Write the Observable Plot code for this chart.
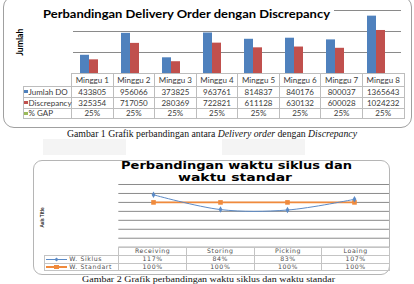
<!DOCTYPE html>
<html><head><meta charset="utf-8">
<script src="https://cdn.jsdelivr.net/npm/d3@7"></script>
<script src="https://cdn.jsdelivr.net/npm/@observablehq/plot@0.6"></script>
<style>
html,body{margin:0;padding:0;background:#fff;}
#root{position:relative;width:414px;height:284px;overflow:hidden;background:#fff;}
.abs{position:absolute;}
.t{position:absolute;white-space:nowrap;line-height:1;transform-origin:0 50%;}
svg{overflow:visible}
</style></head><body><div id="root"></div>
<script>
// ---------- Data: chart 1 ----------
const weeks = ["Minggu 1","Minggu 2","Minggu 3","Minggu 4","Minggu 5","Minggu 6","Minggu 7","Minggu 8"];
const jumlahDO = [433805, 956066, 373825, 963761, 814837, 840176, 800037, 1365643];
const discrepancy = [325354, 717050, 280369, 722821, 611128, 630132, 600028, 1024232];
const gapPct = [0.25, 0.25, 0.25, 0.25, 0.25, 0.25, 0.25, 0.25];
const series1 = ["Jumlah DO", "Discrepancy", "% GAP"];
const colors1 = ["#4f81bd", "#c0504d", "#9bbb59"];
const yTicks1 = [0, 500000, 1000000, 1500000];
const title1 = "Perbandingan Delivery Order dengan Discrepancy";
const yLabel1 = "Jumlah";
const caption1 = "Gambar 1 Grafik perbandingan antara <i>Delivery order</i> dengan <i>Discrepancy</i>";

// ---------- Data: chart 2 ----------
const stages = ["Receiving","Storing","Picking","Loaing"];
const wSiklus = [1.17, 0.84, 0.83, 1.07];
const wStandar = [1.00, 1.00, 1.00, 1.00];
const series2 = ["W. Siklus", "W. Standart"];
const colors2 = ["#5b8ac6", "#f08a3c"];
const yTicks2 = [0, 0.2, 0.4, 0.6, 0.8, 1.0, 1.2, 1.4];
const title2a = "Perbandingan waktu siklus dan";
const title2b = "waktu standar";
const yLabel2 = "Axis Title";
const caption2 = "Gambar 2 Grafik perbandingan waktu siklus dan waktu standar";

const root = document.getElementById("root");
function box(l, t, w, h, css) {
  const d = document.createElement("div");
  d.className = "abs";
  Object.assign(d.style, {left: l+"px", top: t+"px", width: w+"px", height: h+"px"}, css || {});
  root.appendChild(d); return d;
}
// text placed by x, cap-middle y, optional target width (fit by scaleX)
function text(str, x, ymid, fs, css, target, align) {
  const s = document.createElement("div");
  s.className = "t";
  s.innerHTML = str;
  Object.assign(s.style, {fontSize: fs+"px"}, css || {});
  root.appendChild(s);
  const w = s.getBoundingClientRect().width;
  const sc = target ? target / w : 1;
  const ww = w * sc;
  let left = x;
  if (align === "center") left = x - ww/2;
  if (align === "right") left = x - ww;
  s.style.left = left + "px";
  s.style.top = (ymid - fs*0.52) + "px";
  if (target) s.style.transform = `scaleX(${sc})`;
  return s;
}
function vtext(str, cx, cy, fs, css, target) {
  const s = document.createElement("div");
  s.className = "t";
  s.innerHTML = str;
  Object.assign(s.style, {fontSize: fs+"px"}, css || {});
  root.appendChild(s);
  const r = s.getBoundingClientRect();
  const sc = target ? target / r.width : 1;
  s.style.left = (cx - r.width/2) + "px";
  s.style.top = (cy - r.height/2) + "px";
  s.style.transformOrigin = "50% 50%";
  s.style.transform = `rotate(-90deg) scaleX(${sc})`;
  return s;
}

// ================= CHART 1 =================
box(3, -4, 408.5, 132, {border: "1px solid #a0a0a0", borderRadius: "11px", boxSizing: "border-box"});
box(43, 139, 83, 16, {background: "#f4f4f4"});
box(222, 139, 83, 16, {background: "#f4f4f4"});

const rows1 = [];
weeks.forEach((w, i) => {
  rows1.push({week: w, series: series1[0], value: jumlahDO[i]});
  rows1.push({week: w, series: series1[1], value: discrepancy[i]});
  rows1.push({week: w, series: series1[2], value: gapPct[i]});
});
const p1L = 71, p1R = 403.5, p1T = 10, p1B = 73;
const plot1 = Plot.plot({
  width: 414, height: 75,
  marginLeft: p1L, marginRight: 414 - p1R, marginTop: p1T, marginBottom: 75 - p1B,
  style: {background: "transparent"},
  facet: {data: rows1, x: "week"},
  fx: {domain: weeks, padding: 0, axis: null, label: null},
  x: {domain: series1, paddingInner: 0, paddingOuter: 0.69, axis: null},
  y: {domain: [0, 1500000], axis: null},
  color: {domain: series1, range: colors1},
  marks: [
    Plot.ruleY(yTicks1, {stroke: "#8a8a8a", strokeWidth: 1}),
    Plot.barY(rows1, {x: "series", y: "value", fill: "series"})
  ]
});
const w1 = box(0, 0, 414, 75); w1.appendChild(plot1);

// title with white box (hides top gridline)
box(43, 3, 291, 18, {background: "#fff"});
text(title1, 43, 13.9, 11.5, {fontFamily: "Lato", fontWeight: "bold", color: "#000"}, 287);
vtext(yLabel1, 20, 42, 8.5, {fontFamily: "Lato", fontWeight: "bold", color: "#000"}, 27);

// data table 1
const bw1 = (p1R - p1L) / weeks.length;
const rowY1 = [73, 85.7, 96.7, 107.7, 118.3];
const tcss = {fontFamily: "Lato", color: "#3a3a3a"};
weeks.forEach((w, i) => {
  for (let r = 0; r < 4; r++) {
    box(p1L + i*bw1, rowY1[r], bw1 + 1, rowY1[r+1] - rowY1[r] + 1, {border: "1px solid #bdbdbd", boxSizing: "border-box"});
  }
});
for (let r = 1; r < 4; r++) box(22.5, rowY1[r], p1L - 22.5 + 1, rowY1[r+1] - rowY1[r] + 1, {border: "1px solid #bdbdbd", boxSizing: "border-box"});
const tableVals1 = [jumlahDO, discrepancy, gapPct.map(v => Math.round(v*100) + "%")];
weeks.forEach((w, i) => {
  const cx = p1L + (i + 0.5) * bw1 + 0.5;
  text(w, cx, (rowY1[0]+rowY1[1])/2 + 0.5, 8, tcss, null, "center");
  tableVals1.forEach((arr, r) => {
    text(String(arr[i]), cx, (rowY1[r+1]+rowY1[r+2])/2 + 0.5, 8, tcss, null, "center");
  });
});
series1.forEach((s, r) => {
  const ym = (rowY1[r+1]+rowY1[r+2])/2 + 0.5;
  box(24, ym - 2, 3.5, 3.5, {background: colors1[r]});
  text(s, 28.5, ym, 8, tcss);
});
text(caption1, 212, 134.8, 9.5, {fontFamily: "Liberation Serif", color: "#111"}, 290, "center");

// ================= CHART 2 =================
box(32.5, 160, 357.5, 115, {border: "1px solid #b5b5b5", borderRadius: "9px", boxSizing: "border-box"});
const p2L = 118.3, p2R = 389, p2T = 184, p2B = 246.7;
const rows2 = [];
stages.forEach((s, i) => {
  rows2.push({stage: s, series: series2[0], value: wSiklus[i]});
  rows2.push({stage: s, series: series2[1], value: wStandar[i]});
});
const sik = rows2.filter(d => d.series === series2[0]);
const std = rows2.filter(d => d.series === series2[1]);
const top2 = 170;
const plot2 = Plot.plot({
  width: 414, height: p2B - top2,
  marginLeft: p2L, marginRight: 414 - p2R, marginTop: p2T - top2, marginBottom: 0,
  style: {background: "transparent"},
  x: {domain: stages, type: "point", padding: 0.5, axis: null},
  y: {domain: [0, 1.4], axis: null},
  marks: [
    Plot.ruleY(yTicks2, {stroke: "#8a8a8a", strokeWidth: 1}),
    Plot.line(std, {x: "stage", y: "value", stroke: colors2[1], strokeWidth: 1.6}),
    Plot.dot(std, {x: "stage", y: "value", symbol: "square", r: 2.6, fill: colors2[1], stroke: "none"}),
    Plot.line(sik, {x: "stage", y: "value", stroke: colors2[0], strokeWidth: 1, curve: "catmull-rom"}),
    Plot.dot(sik, {x: "stage", y: "value", symbol: "diamond", r: 2, fill: colors2[0], stroke: "none"})
  ]
});
const w2 = box(0, top2, 414, p2B - top2); w2.appendChild(plot2);

const t2css = {fontFamily: "DejaVu Sans", fontWeight: "bold", color: "#000"};
text(title2a, 236, 165.3, 10.5, t2css, 231, "center");
text(title2b, 235, 177, 10.5, t2css, 114, "center");
vtext(yLabel2, 42, 217, 5, {fontFamily: "Lato", fontWeight: "bold", color: "#222"}, 20);

const bw2 = (p2R - p2L) / stages.length;
const rowY2 = [246.7, 255, 262.7, 270.5];
const bc2 = "1px solid #c4c4c4";
stages.forEach((s, i) => {
  for (let r = 0; r < 3; r++) box(p2L + i*bw2, rowY2[r], bw2 + 1, rowY2[r+1] - rowY2[r] + 1, {border: bc2, boxSizing: "border-box"});
});
for (let r = 1; r < 3; r++) box(44.3, rowY2[r], p2L - 44.3 + 1, rowY2[r+1] - rowY2[r] + 1, {border: bc2, boxSizing: "border-box"});
const t2 = {fontFamily: "DejaVu Sans", color: "#4a4a4a", letterSpacing: "0.6px"};
const tableVals2 = [wSiklus, wStandar];
stages.forEach((s, i) => {
  const cx = p2L + (i + 0.5) * bw2 + 0.5;
  text(s, cx, (rowY2[0]+rowY2[1])/2 + 0.5, 6.2, t2, null, "center");
  tableVals2.forEach((arr, r) => {
    text(Math.round(arr[i]*100) + "%", cx, (rowY2[r+1]+rowY2[r+2])/2 + 0.5, 6.2, t2, null, "center");
  });
});
series2.forEach((s, r) => {
  const ym = (rowY2[r+1]+rowY2[r+2])/2 + 0.5;
  box(46, ym - (r ? 0.8 : 0.5), 20.5, r ? 1.6 : 1, {background: colors2[r]});
  if (r) box(54, ym - 2, 5, 4, {background: colors2[r]});
  else box(54.8, ym - 1.6, 3, 3, {background: colors2[r], transform: "rotate(45deg)"});
  text(s, 69.3, ym, 6.2, t2);
});
text(caption2, 208.5, 279.8, 7.6, {fontFamily: "Liberation Serif", color: "#111"}, 253, "center");
</script>
</body></html>
